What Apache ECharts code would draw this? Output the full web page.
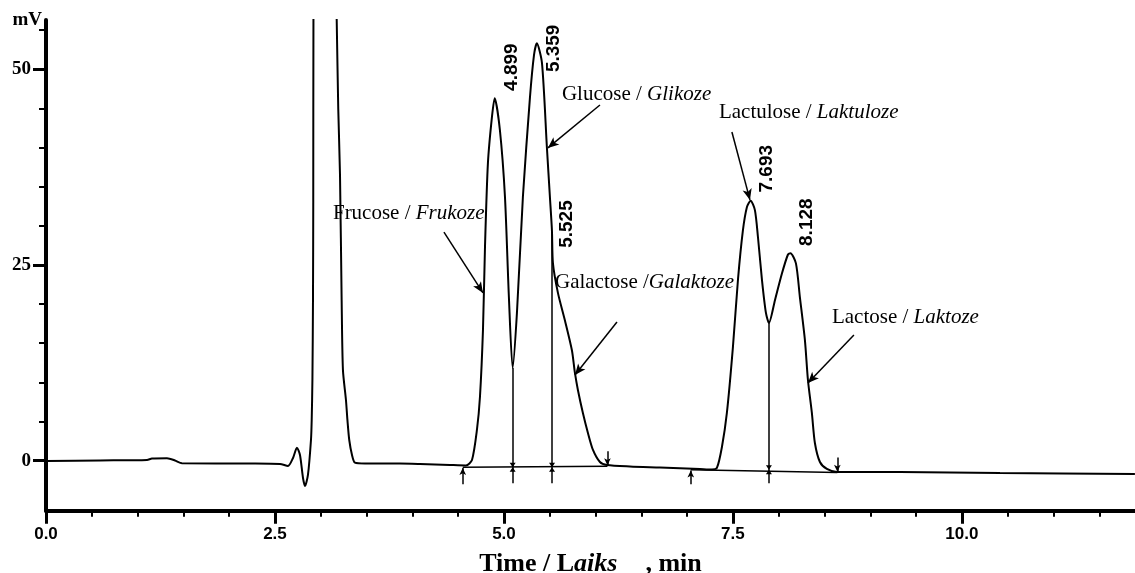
<!DOCTYPE html>
<html>
<head>
<meta charset="utf-8">
<title>HPLC chromatogram of sugars</title>
<script src="https://cdn.jsdelivr.net/npm/echarts@6/dist/echarts.min.js"></script>
<style>
  html, body { margin: 0; padding: 0; background: #fff; }
  #chart { width: 1135px; height: 573px; }
</style>
</head>
<body>
<div id="chart"></div>
<script>
// ---- Chromatogram trace: retention time (min) and detector signal (mV) ----
const retentionTime = [
  0.000, 0.590, 1.103, 1.157, 1.321, 1.408, 1.485, 2.227, 2.555, 2.642,
  2.697, 2.740, 2.773, 2.806, 2.828, 2.860, 2.893, 2.901, 2.909, 2.915,
  2.918, 2.920, 2.930, 3.050, 3.165, 3.174, 3.191, 3.210, 3.228, 3.242,
  3.275, 3.291, 3.311, 3.341, 3.373, 3.483, 3.865, 4.083, 4.410, 4.585,
  4.651, 4.705, 4.738, 4.771, 4.793, 4.825, 4.869, 4.899, 4.956, 5.011,
  5.054, 5.095, 5.142, 5.207, 5.284, 5.328, 5.359, 5.415, 5.469, 5.502,
  5.524, 5.535, 5.590, 5.666, 5.742, 5.775, 5.808, 5.862, 5.917, 5.972,
  6.048, 6.124, 6.376, 6.703, 7.140, 7.271, 7.325, 7.380, 7.434, 7.500,
  7.555, 7.609, 7.653, 7.693, 7.740, 7.773, 7.817, 7.860, 7.893, 7.959,
  8.035, 8.100, 8.128, 8.188, 8.231, 8.286, 8.319, 8.362, 8.395, 8.450,
  8.526, 8.635, 9.323, 10.415, 11.889
];
const signal = [
  -0.04, 0.03, 0.09, 0.28, 0.31, 0.03, -0.33, -0.36, -0.42, -0.68,
  0.34, 1.66, 0.73, -2.21, -3.23, -1.83, 2.64, 5.20, 10.5, 20.5,
  33.3, 56.3, 62.0, 85.0, 62.0, 56.28, 44.9, 36.5, 20.5, 11.6,
  7.75, 5.20, 2.64, 0.73, -0.26, -0.36, -0.36, -0.42, -0.55, -0.61,
  0.09, 3.92, 8.13, 16.7, 27.3, 38.0, 43.9, 46.3, 42.2, 33.7,
  20.9, 11.84, 18.9, 33.7, 46.4, 51.8, 53.3, 50.8, 40.0, 33.65,
  29.4, 25.2, 21.4, 17.9, 14.1, 11.2, 9.0, 6.09, 3.54, 1.37,
  -0.17, -0.55, -0.74, -0.87, -1.06, -1.12, -0.93, 1.75, 6.09, 14.5,
  23.1, 29.4, 32.4, 33.2, 32.0, 28.6, 23.1, 18.9, 17.6, 20.5,
  23.9, 26.3, 26.5, 25.2, 20.9, 15.4, 10.3, 6.09, 2.26, -0.17,
  -1.06, -1.45, -1.45, -1.57, -1.70
];

// ---- Integrated peaks: retention time labels and apex heights ----
const peakTimes = [4.899, 5.359, 5.525, 7.693, 8.128];
const peakHeights = [46.3, 53.3, 29.2, 33.2, 26.5];

// ---- Perpendicular drop lines between co-eluting peaks ----
const dropTimes = [5.095, 5.525, 7.893];
const dropTops = [11.84, 29.2, 17.6];
const dropFoot = [-0.85, -0.85, -1.15];

// ---- Integration windows (start / end of each peak group) ----
const windowStarts = [4.55, 7.04];
const windowEnds = [6.13, 8.64];
const windowStartLevel = [-0.85, -1.15];
const windowEndLevel = [-0.7, -1.5];

// ---- Identified sugars (English / Latvian) ----
const sugarNamesEn = ['Frucose', 'Glucose', 'Galactose', 'Lactulose', 'Lactose'];
const sugarSeparators = [' / ', ' / ', ' /', ' / ', ' / '];
const sugarNamesLv = ['Frukoze', 'Glikoze', 'Galaktoze', 'Laktuloze', 'Laktoze'];

// ---- Axis ticks ----
const xTickValues = [0, 2.5, 5, 7.5, 10];
const xMinorTickValues = [0.5, 1, 1.5, 2, 3, 3.5, 4, 4.5, 5.5, 6, 6.5, 7, 8, 8.5, 9, 9.5, 10.5, 11, 11.5];
const yTickValues = [0, 25, 50];
const yMinorTickValues = [5, 10, 15, 20, 30, 35, 40, 45, 55];

// ---- Layout of the name callouts (data coordinates) ----
const calloutTextAt = [[3.133, 31.6], [5.633, 46.8], [5.557, 22.7], [7.347, 44.5], [8.581, 18.35]];
const calloutTail = [[4.345, 29.19], [6.048, 45.43], [6.234, 17.71], [7.489, 41.98], [8.821, 16.05]];
const calloutTip = [[4.771, 21.42], [5.480, 39.94], [5.775, 10.95], [7.686, 33.30], [8.319, 9.93]];
// offsets of the rotated retention-time labels, given in the label's own
// (rotated) frame: [up the page, right across the page] in pixels
const peakLabelOffset = [[31, 17], [-5, 17], [8, 15], [32, 16], [31, 16]];

const X_MIN = 0, X_MAX = 11.89, Y_MIN = -6.39, Y_MAX = 56.28;
const SERIF = '"Liberation Serif", "Times New Roman", serif';
const SANS = '"Liberation Sans", Arial, sans-serif';
const INK = '#000';

const trace = retentionTime.map((t, i) => [t, signal[i]]);

const markLines = [];
// callout arrows
calloutTail.forEach((tail, i) => {
  markLines.push([
    { coord: tail, symbol: 'none' },
    { coord: calloutTip[i], symbol: 'arrow', symbolSize: [7, 11] }
  ]);
});
// drop lines
dropTimes.forEach((t, i) => {
  markLines.push([
    { coord: [t, dropTops[i]], symbol: 'none' },
    { coord: [t, -2.9], symbol: 'none' }
  ]);
});
// integration baselines and start/end arrows
windowStarts.forEach((t, i) => {
  markLines.push([
    { coord: [t, windowStartLevel[i]], symbol: 'none' },
    { coord: [windowEnds[i], windowEndLevel[i]], symbol: 'none' }
  ]);
  markLines.push([
    { coord: [t, -3.0], symbol: 'none' },
    { coord: [t, windowStartLevel[i] - 0.1], symbol: 'arrow', symbolSize: [5, 7] }
  ]);
  markLines.push([
    { coord: [windowEnds[i], windowEndLevel[i] + 1.9], symbol: 'none' },
    { coord: [windowEnds[i], windowEndLevel[i] + 0.1], symbol: 'arrow', symbolSize: [5, 7] }
  ]);
});

const chart = echarts.init(document.getElementById('chart'), null, { renderer: 'canvas' });

const axisFontSerif = { fontFamily: SERIF, fontWeight: 'bold', fontSize: 19, color: INK };

chart.setOption({
  animation: false,
  backgroundColor: '#fff',
  grid: { left: 46, right: 0, top: 20, bottom: 62.3, containLabel: false, outerBoundsMode: 'none' },
  xAxis: [
    {
      type: 'value', min: X_MIN, max: X_MAX, position: 'bottom',
      axisLine: { show: true, onZero: false, lineStyle: { color: INK, width: 4 } },
      axisTick: { show: true, customValues: xTickValues, length: 13, lineStyle: { color: INK, width: 3 } },
      axisLabel: {
        customValues: xTickValues, formatter: v => v.toFixed(1), margin: 15,
        fontFamily: SANS, fontWeight: 'bold', fontSize: 17, color: INK
      },
      splitLine: { show: false },
      name: '{b|Time / L}{bi|aiks}{gap|}{b|, min}',
      nameLocation: 'middle', nameGap: 49, nameMoveOverlap: false,
      nameTextStyle: {
        verticalAlign: 'middle', backgroundColor: '#fff', padding: [12, 8, 2, 8],
        rich: {
          b: { fontFamily: SERIF, fontWeight: 'bold', fontSize: 26, color: INK },
          bi: { fontFamily: SERIF, fontWeight: 'bold', fontStyle: 'italic', fontSize: 26, color: INK },
          gap: { width: 28 }
        }
      }
    },
    {
      type: 'value', min: X_MIN, max: X_MAX, position: 'bottom',
      axisLine: { show: false, onZero: false },
      axisTick: { show: true, customValues: xMinorTickValues, length: 6, lineStyle: { color: INK, width: 2 } },
      axisLabel: { show: false },
      splitLine: { show: false }
    }
  ],
  yAxis: [
    {
      type: 'value', min: Y_MIN, max: Y_MAX, position: 'left',
      axisLine: { show: true, onZero: false, lineStyle: { color: INK, width: 4 } },
      axisTick: { show: true, customValues: yTickValues, length: 13, lineStyle: { color: INK, width: 3 } },
      axisLabel: { customValues: yTickValues, margin: 15, ...axisFontSerif },
      splitLine: { show: false },
      name: 'mV', nameLocation: 'end', nameGap: 0, nameMoveOverlap: false,
      nameTextStyle: { ...axisFontSerif, align: 'right', verticalAlign: 'middle', padding: [0, 4, 0, 0] }
    },
    {
      type: 'value', min: Y_MIN, max: Y_MAX, position: 'left',
      axisLine: { show: false, onZero: false },
      axisTick: { show: true, customValues: yMinorTickValues, length: 7, lineStyle: { color: INK, width: 2 } },
      axisLabel: { show: false },
      splitLine: { show: false }
    }
  ],
  series: [
    {
      name: 'Signal', type: 'line', data: trace, xAxisIndex: 0, yAxisIndex: 0,
      showSymbol: false, symbol: 'none', smooth: 0.25, clip: true,
      lineStyle: { color: INK, width: 2 },
      silent: true,
      markLine: {
        silent: true, symbol: ['none', 'none'], precision: 3,
        label: { show: false },
        lineStyle: { color: INK, width: 1.5, type: 'solid' },
        emphasis: { disabled: true },
        data: markLines
      }
    },
    {
      name: 'Drop marks', type: 'scatter', xAxisIndex: 0, yAxisIndex: 0, silent: true,
      symbol: 'path://M0,0 L10,0 L5,6 Z M5,6 L10,12 L0,12 Z', symbolSize: [6, 9],
      itemStyle: { color: INK, opacity: 1 },
      data: dropTimes.map((t, i) => [t, dropFoot[i]])
    },
    {
      name: 'Retention times', type: 'scatter', xAxisIndex: 0, yAxisIndex: 0, silent: true,
      symbolSize: 0,
      itemStyle: { color: INK, opacity: 1 },
      data: peakTimes.map((t, i) => ({
        value: [t, peakHeights[i]],
        label: { offset: peakLabelOffset[i] }
      })),
      label: {
        show: true, position: 'inside', rotate: 90, align: 'center', verticalAlign: 'middle',
        formatter: p => p.value[0].toFixed(3),
        fontFamily: SANS, fontWeight: 'bold', fontSize: 19, color: INK, opacity: 1
      }
    },
    {
      name: 'Sugars', type: 'scatter', xAxisIndex: 0, yAxisIndex: 0, silent: true,
      symbolSize: 0,
      itemStyle: { color: INK, opacity: 1 },
      data: calloutTextAt.map((pos, i) => ({
        value: pos,
        name: '{n|' + sugarNamesEn[i] + sugarSeparators[i] + '}{i|' + sugarNamesLv[i] + '}'
      })),
      label: {
        show: true, position: 'right', distance: 0, align: 'left', verticalAlign: 'middle',
        formatter: p => p.name, opacity: 1,
        rich: {
          n: { fontFamily: SERIF, fontSize: 21, color: INK },
          i: { fontFamily: SERIF, fontStyle: 'italic', fontSize: 21, color: INK }
        }
      }
    }
  ]
});
</script>
</body>
</html>
